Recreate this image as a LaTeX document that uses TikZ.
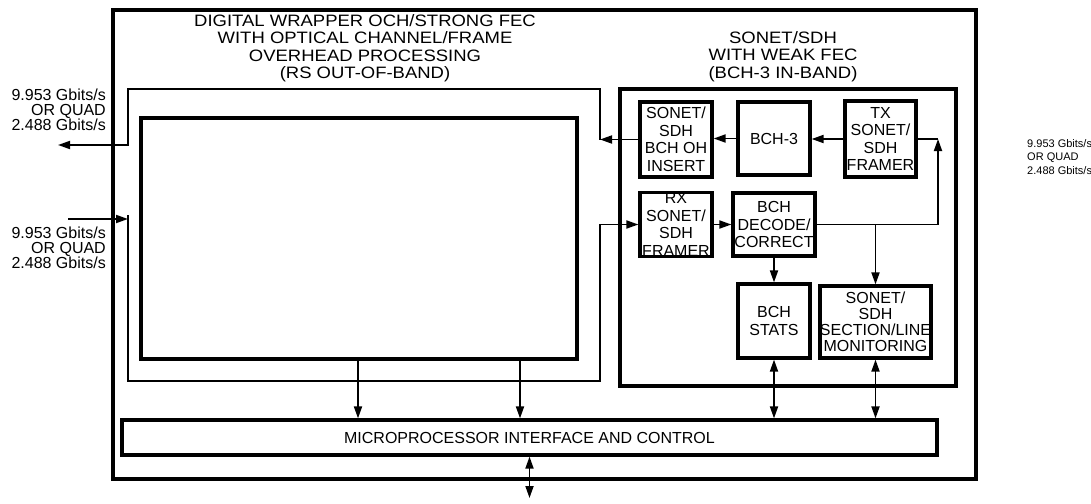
\documentclass[tikz,border=0pt]{standalone}
\usepackage{fontspec}
\setmainfont{Liberation Sans}
\newfontfamily\widefont[FakeStretch=1.12]{Liberation Sans}
\usetikzlibrary{arrows.meta,positioning}

\begin{document}
\begin{tikzpicture}[
    x=1pt, y=-1pt,
    >={Triangle[length=12pt,width=8pt]},
    block/.style={draw, line width=3.2pt, inner sep=0pt, align=center, font=\fontsize{16}{17.5}\selectfont},
    frame/.style={draw, line width=3.6pt, inner sep=0pt},
    conn/.style={line width=1.8pt},
    heading/.style={inner sep=0pt, align=center, font=\widefont\fontsize{16.5}{17.5}\selectfont},
    rate/.style={inner sep=0pt, font=\fontsize{16}{15}\selectfont}
]
\useasboundingbox (0,0) rectangle (1091,503);
\node[frame, minimum width=863pt, minimum height=469pt] (chip) at (544.5,244.5) {};
\node[heading] (wraptitle) at (365,48) {DIGITAL WRAPPER OCH/STRONG FEC\\WITH OPTICAL CHANNEL/FRAME\\OVERHEAD PROCESSING\\(RS OUT-OF-BAND)};
\node[block, minimum width=436pt, minimum height=241pt] (och) at (359,238.5) {};
\node[block, minimum width=336pt, minimum height=297pt] (sonet) at (788,237.5) {};
\node[heading] (sonettitle) at (783,56.5) {SONET/SDH\\WITH WEAK FEC\\(BCH-3 IN-BAND)};
\node[block, minimum width=72pt, minimum height=75pt] (insert) at (676,139.5) {SONET/\\SDH\\BCH OH\\INSERT};
\node[block, minimum width=72pt, minimum height=73pt] (bch3) at (774,138.5) {BCH-3};
\node[block, minimum width=71pt, minimum height=76pt] (tx) at (880.5,139) {TX\\SONET/\\SDH\\FRAMER};
\node[block, minimum width=72pt, minimum height=63pt] (rx) at (676,224.5) {RX\\SONET/\\SDH\\FRAMER};
\node[block, minimum width=82pt, minimum height=63pt] (decode) at (774,224.5) {BCH\\DECODE/\\CORRECT};
\node[block, minimum width=72pt, minimum height=74pt] (stats) at (774,321) {BCH\\STATS};
\node[block, minimum width=111pt, minimum height=72pt, font=\fontsize{16}{16}\selectfont] (monitor) at (875.5,322) {SONET/\\SDH\\SECTION/LINE\\MONITORING};
\node[block, minimum width=815pt, minimum height=35pt] (mpi) at (529.5,437.5) {MICROPROCESSOR INTERFACE AND CONTROL};
\node[rate, anchor=east, align=right] (lineout) at (106,110) {9.953 Gbits/s\\OR QUAD\\2.488 Gbits/s};
\node[rate, anchor=east, align=right] (linein) at (106,248) {9.953 Gbits/s\\OR QUAD\\2.488 Gbits/s};
\node[rate, anchor=west, align=left, font=\fontsize{11}{13.5}\selectfont] (sysside) at (1027,157) {9.953 Gbits/s\\OR QUAD\\2.488 Gbits/s};
\coordinate (outjoin) at (600,139.5);
\coordinate (outcorner) at (128,89);
\coordinate (outend) at (58,145);
\coordinate (instart) at (68,219);
\coordinate (injoin) at (128,219);
\coordinate (intop) at (128,215);
\coordinate (inbot) at (128,381);
\coordinate (inturn) at (600,381);
\coordinate (txturn) at (938,139);
\coordinate (cpu) at (529.5,498);
\draw[conn, ->] (tx.west) -- (tx.west -| bch3.east);
\draw[conn, ->] (bch3.west) -- (bch3.west -| insert.east);
\draw[conn, ->] (insert.west) -- (outjoin);
\draw[conn, ->] (outjoin) |- (outcorner) |- (outend);
\draw[conn, ->] (instart) -- (injoin);
\draw[conn, ->] (intop) -- (inbot) -- (inturn) |- (rx.west);
\draw[conn, ->] (rx.east) -- (rx.east -| decode.west);
\draw[conn] (tx.east) -- (tx.east -| txturn);
\draw[conn, ->] (decode.east) -| (txturn);
\draw[conn, ->] (decode.south) -- (stats.north);
\draw[conn, ->] (monitor.north |- decode.east) -- (monitor.north);
\draw[conn, <->] (stats.south) -- (stats.south |- mpi.north);
\draw[conn, <->] (monitor.south) -- (monitor.south |- mpi.north);
\draw[conn, ->] ([xshift=-1pt]och.south) -- ([xshift=-1pt]och.south |- mpi.north);
\draw[conn, ->] ([xshift=161pt]och.south) -- ([xshift=161pt]och.south |- mpi.north);
\draw[conn, <->] (mpi.south) -- (cpu);
\end{tikzpicture}
\end{document}
